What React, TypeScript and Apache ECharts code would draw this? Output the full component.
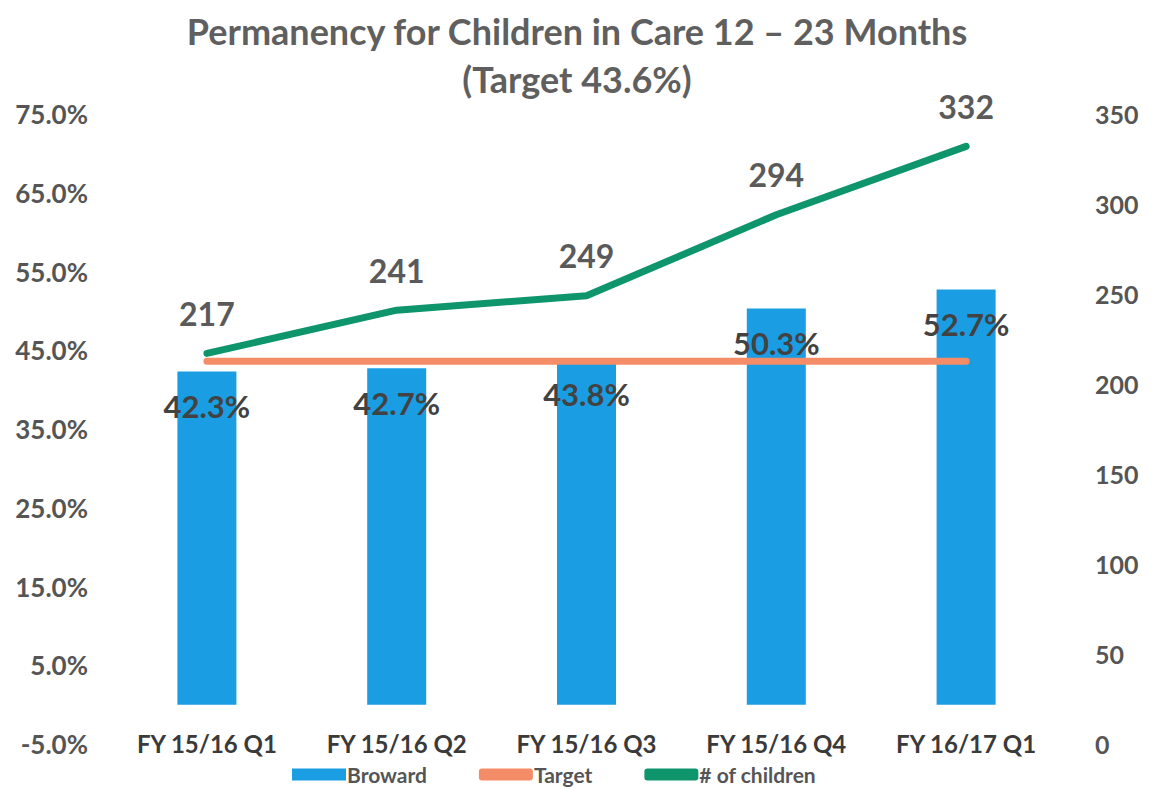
import React, { useEffect, useRef } from "react";
import * as echarts from "echarts";

const categories = ["FY 15/16 Q1", "FY 15/16 Q2", "FY 15/16 Q3", "FY 15/16 Q4", "FY 16/17 Q1"];
const browardPct = [42.3, 42.7, 43.8, 50.3, 52.7];
const targetPct = [43.6, 43.6, 43.6, 43.6, 43.6];
const childrenCount = [217, 241, 249, 294, 332];
const leftAxisRange = { min: -5, max: 75, interval: 10 };
const rightAxisRange = { min: 0, max: 350, interval: 50 };
const titleLines = ["Permanency for Children in Care 12 – 23 Months", "(Target 43.6%)"];
const legendNames = ["Broward", "Target", "# of children"];

const FONT = "Lato, 'Noto Sans', sans-serif";

export default function App() {
  const ref = useRef<HTMLDivElement>(null);
  useEffect(() => {
    if (!ref.current) return;
    const chart = echarts.init(ref.current, null, { renderer: "svg" });
    chart.setOption({
      animation: false,
      backgroundColor: "#ffffff",
      textStyle: { fontFamily: FONT },
      title: {
        text: titleLines.join("\n"),
        left: "center",
        top: 2,
        textStyle: {
          fontFamily: FONT,
          fontSize: 36,
          fontWeight: "bold",
          color: "#5f5f5f",
          lineHeight: 48,
        },
      },
      legend: {
        data: [
          { name: legendNames[0], icon: "rect" },
          { name: legendNames[1], icon: "roundRect" },
          { name: legendNames[2], icon: "roundRect" },
        ],
        top: 764,
        left: 292,
        itemWidth: 54,
        itemHeight: 12,
        itemGap: 52,
        padding: 0,
        textStyle: { fontFamily: FONT, fontSize: 21, fontWeight: "bold", color: "#555555", padding: [0, 0, 0, -4] },
      },
      grid: { left: 112, right: 93, top: 114, bottom: 46, containLabel: false },
      xAxis: {
        type: "category",
        data: categories,
        boundaryGap: true,
        axisLine: { show: false, onZero: false },
        axisTick: { show: false },
        axisLabel: {
          interval: 0,
          hideOverlap: false,
          margin: -13,
          fontFamily: FONT,
          fontSize: 24,
          fontWeight: "bold",
          color: "#3a3a3a",
        },
      },
      yAxis: [
        {
          type: "value",
          ...leftAxisRange,
          splitLine: { show: false },
          axisLine: { show: false },
          axisTick: { show: false },
          axisLabel: {
            margin: 24,
            fontFamily: FONT,
            fontSize: 26,
            fontWeight: "bold",
            color: "#555555",
            formatter: (v: number) => v.toFixed(1) + "%",
          },
        },
        {
          type: "value",
          ...rightAxisRange,
          position: "right",
          splitLine: { show: false },
          axisLine: { show: false },
          axisTick: { show: false },
          axisLabel: {
            margin: 34,
            align: "left",
            fontFamily: FONT,
            fontSize: 25,
            fontWeight: "bold",
            color: "#555555",
          },
        },
      ],
      series: [
        {
          name: legendNames[0],
          type: "bar",
          data: browardPct,
          yAxisIndex: 0,
          barWidth: 59,
          itemStyle: { color: "#1a9de2" },
          label: {
            show: true,
            position: "insideTop",
            offset: [0, 14],
            fontFamily: FONT,
            fontSize: 31,
            fontWeight: "bold",
            color: "#424242",
            formatter: (p: any) => p.value.toFixed(1) + "%",
          },
          z: 2,
        },
        {
          name: legendNames[1],
          type: "line",
          data: targetPct,
          yAxisIndex: 0,
          symbol: "none",
          lineStyle: { color: "#f48d67", width: 7, cap: "round" },
          itemStyle: { color: "#f48d67" },
          z: 3,
        },
        {
          name: legendNames[2],
          type: "line",
          data: childrenCount,
          yAxisIndex: 1,
          symbol: "circle",
          symbolSize: 2,
          lineStyle: { color: "#0f956b", width: 7, cap: "round" },
          itemStyle: { color: "#0f956b" },
          label: {
            show: true,
            position: "top",
            distance: 23,
            fontFamily: FONT,
            fontSize: 32,
            fontWeight: "bold",
            color: "#5a5a5a",
          },
          z: 4,
        },
      ],
    });
    return () => chart.dispose();
  }, []);
  return <div ref={ref} style={{ width: 1154, height: 790, position: "absolute", left: 0, top: 0 }} />;
}
